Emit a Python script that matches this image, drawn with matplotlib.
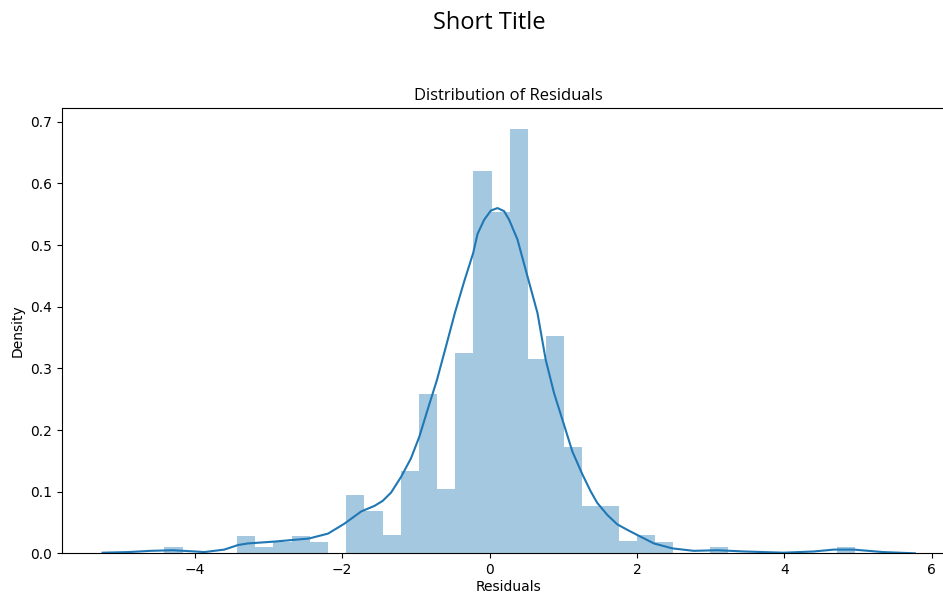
import numpy as np
import matplotlib
matplotlib.use("Agg")
import matplotlib.pyplot as plt

# histogram (density)
bin_start = -4.41
bin_width = 0.2465
bar_heights = [
    0.0097, 0.0, 0.0, 0.0, 0.028, 0.0097, 0.019, 0.028, 0.019, 0.0,
    0.095, 0.068, 0.029, 0.134, 0.258, 0.104, 0.325, 0.620, 0.554, 0.6875,
    0.316, 0.353, 0.172, 0.077, 0.077, 0.0195, 0.029, 0.019, 0.0, 0.0,
    0.0097, 0.0, 0.0, 0.0, 0.0, 0.0, 0.0, 0.0097,
]

# KDE curve
kde_x = [-5.25, -4.9, -4.6, -4.3, -4.0, -3.87, -3.6, -3.41, -3.28, -2.92,
         -2.45, -2.19, -1.97, -1.74, -1.56, -1.45, -1.336, -1.20, -1.066,
         -0.953, -0.84, -0.714, -0.59, -0.470, -0.344, -0.222, -0.163, -0.073,
         0.018, 0.108, 0.198, 0.266, 0.379, 0.515, 0.65, 0.762, 0.875, 1.00,
         1.124, 1.26, 1.37, 1.46, 1.6, 1.733, 1.87, 2.0, 2.23, 2.48, 2.77,
         3.09, 3.45, 3.99, 4.4, 4.67, 4.94, 5.34, 5.77]
kde_y = [0.001, 0.002, 0.004, 0.005, 0.003, 0.002, 0.006, 0.0135, 0.016, 0.019,
         0.024, 0.032, 0.048, 0.068, 0.077, 0.085, 0.0985, 0.124, 0.154,
         0.189, 0.233, 0.281, 0.336, 0.390, 0.441, 0.487, 0.518, 0.541,
         0.556, 0.560, 0.555, 0.541, 0.509, 0.449, 0.390, 0.314, 0.26, 0.2125,
         0.165, 0.128, 0.101, 0.082, 0.062, 0.047, 0.038, 0.030, 0.016, 0.008, 0.004,
         0.005, 0.003, 0.001, 0.003, 0.006, 0.006, 0.002, 0.0]

fig = plt.figure(figsize=(9.43, 5.94), dpi=100)
ax = fig.add_axes([0.0657, 0.0685, 0.9475, 0.7492])

edges = bin_start + bin_width * np.arange(len(bar_heights))
ax.bar(edges, bar_heights, width=bin_width, align="edge", color="#1f77b4", alpha=0.4, linewidth=0)
ax.plot(kde_x, kde_y, color="#1f77b4", lw=1.5)

ax.set_title("Distribution of Residuals", fontsize=12, family="Open Sans")
ax.set_xlabel("Residuals", fontsize=10, labelpad=2)
ax.set_ylabel("Density", fontsize=10)
ax.tick_params(labelsize=10)
ax.set_xticks([-4, -2, 0, 2, 4, 6])
ax.set_yticks([0.0, 0.1, 0.2, 0.3, 0.4, 0.5, 0.6, 0.7])

fig.text(0.5186, 0.962, "Short Title", ha="center", va="center", fontsize=17, family="Open Sans")

fig.savefig("out.png", dpi=100)
